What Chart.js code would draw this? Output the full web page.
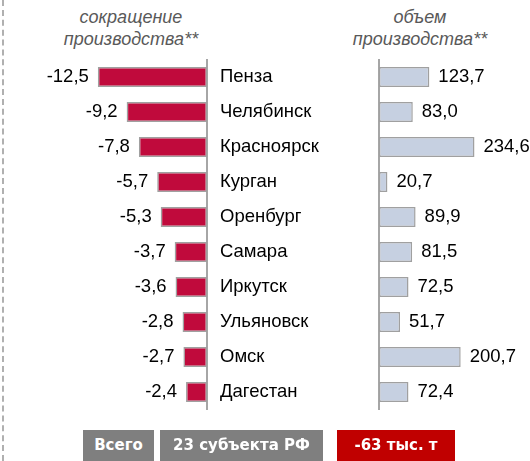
<!DOCTYPE html>
<html>
<head>
<meta charset="utf-8">
<script src="https://cdn.jsdelivr.net/npm/chart.js@4.4.1/dist/chart.umd.min.js"></script>
<style>
  body { margin: 0; background: #fff; }
  #wrap { position: relative; width: 530px; height: 461px; overflow: hidden; font-family: "Liberation Sans", Arial, sans-serif; }
  .title { position: absolute; color: #595959; font-style: italic; font-size: 18px; line-height: 22px; text-align: center; }
  .box { position: absolute; top: 430px; height: 34px; color: #fff; font-family: "DejaVu Sans", Verdana, sans-serif; font-weight: bold; font-size: 15px; line-height: 31px; text-align: center; }
  #dash { position: absolute; left: 2px; top: 0; height: 461px; border-left: 2px dashed #b0b0b0; }
</style>
</head>
<body>
<div id="wrap">
  <div id="dash"></div>
  <div class="title" style="left:51px; width:160px; top:6px;">сокращение<br>производства**</div>
  <div class="title" style="left:340px; width:160px; top:6px;">объем<br>производства**</div>
  <canvas id="left" style="position:absolute; left:0; top:0;"></canvas>
  <canvas id="right" style="position:absolute; left:370px; top:0;"></canvas>
  <div class="box" style="left:83px; width:71px; background:#7f7f7f;">Всего</div>
  <div class="box" style="left:160px; width:163px; background:#7f7f7f;">23 субъекта РФ</div>
  <div class="box" style="left:337px; width:118px; background:#c00000;">-63 тыс. т</div>
</div>
<script>
const regions = ["Пенза", "Челябинск", "Красноярск", "Курган", "Оренбург", "Самара", "Иркутск", "Ульяновск", "Омск", "Дагестан"];
const cutValues = [-12.5, -9.2, -7.8, -5.7, -5.3, -3.7, -3.6, -2.8, -2.7, -2.4];
const volumeValues = [123.7, 83.0, 234.6, 20.7, 89.9, 81.5, 72.5, 51.7, 200.7, 72.4];

const fmt = v => v.toFixed(1).replace(".", ",");

// value labels next to the bar ends
const valueLabels = {
    id: "valueLabels",
    afterDatasetsDraw(chart) {
        const ctx = chart.ctx;
        const meta = chart.getDatasetMeta(0);
        const data = chart.data.datasets[0].data;
        ctx.save();
        ctx.font = "18.5px 'Liberation Sans', Arial, sans-serif";
        ctx.fillStyle = "#000";
        ctx.textBaseline = "middle";
        meta.data.forEach((bar, i) => {
            if (data[i] < 0) {
                ctx.textAlign = "right";
                ctx.fillText(fmt(data[i]), bar.x - 9, bar.y);
            } else {
                ctx.textAlign = "left";
                ctx.fillText(fmt(data[i]), bar.x + 9, bar.y);
            }
        });
        ctx.restore();
    }
};

function makeChart(id, width, values, fill, xMin, xMax, yAxis, pad) {
    const el = document.getElementById(id);
    el.width = width;
    el.height = 461;
    return new Chart(el, {
        type: "bar",
        data: {
            labels: regions,
            datasets: [{
                data: values,
                backgroundColor: fill,
                borderColor: "#a0a0a0",
                borderWidth: 1.5,
                borderSkipped: false,
                barPercentage: 0.57,
                categoryPercentage: 1
            }]
        },
        options: {
            indexAxis: "y",
            responsive: false,
            animation: false,
            layout: {padding: pad},
            plugins: {legend: {display: false}, tooltip: {enabled: false}},
            scales: {
                x: {display: false, min: xMin, max: xMax},
                y: yAxis
            }
        },
        plugins: [valueLabels]
    });
}

makeChart("left", 370, cutValues, "#c00a3c", -23.7, 0, {
    position: "right",
    grid: {display: false, drawTicks: false},
    border: {color: "#a6a6a6", width: 2},
    ticks: {
        padding: 13,
        color: "#000",
        font: {family: "'Liberation Sans', Arial, sans-serif", size: 18.5}
    },
    afterFit: axis => { axis.width = 163; }
}, {top: 59.5, bottom: 51.5, left: 0, right: 0});

makeChart("right", 160, volumeValues, "#c6d0e1", 0, 371, {
    position: "left",
    grid: {display: false, drawTicks: false},
    border: {color: "#a6a6a6", width: 2},
    ticks: {display: false},
    afterFit: axis => { axis.width = 0; }
}, {top: 59.5, bottom: 51.5, left: 9, right: 0});
</script>
</body>
</html>
